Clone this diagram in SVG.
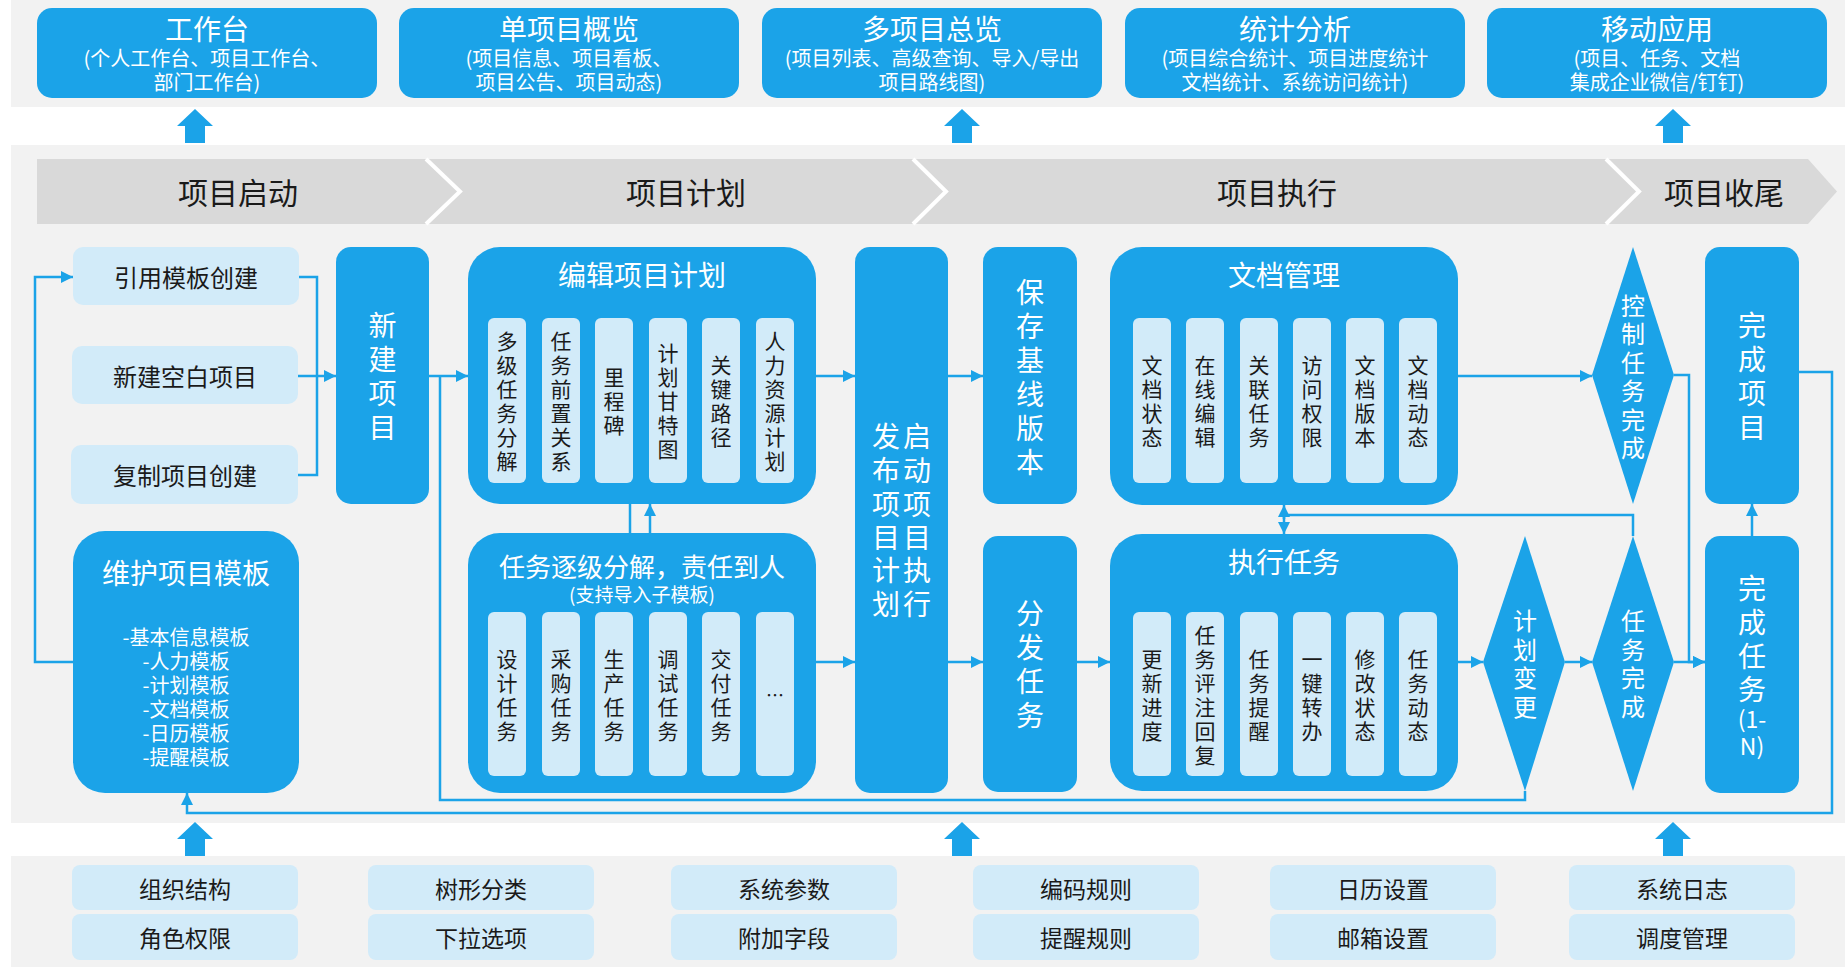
<svg xmlns="http://www.w3.org/2000/svg" width="1845" height="969" viewBox="0 0 1845 969">
<style>
.band{fill:#f2f2f2}
.blue{fill:#1ba3e8}
.light{fill:#d2ebf9}
text{font-family:"Noto Sans CJK SC","Microsoft YaHei",sans-serif;dominant-baseline:central;text-anchor:middle}
.w{fill:#ffffff}
.k{fill:#1a1a1a}
.conn path{fill:none;stroke:#1ba3e8;stroke-width:2.5}
.big{fill:#1ba3e8}
</style>
<defs>
<marker id="ah" viewBox="0 0 12 12" refX="12" refY="6" markerWidth="12" markerHeight="12" markerUnits="userSpaceOnUse" orient="auto">
<path d="M0,0 L12,6 L0,12 z" fill="#1ba3e8"/>
</marker>
</defs>
<rect width="1845" height="969" fill="#ffffff"/>
<rect class="band" x="11" y="0" width="1834" height="107"/>
<rect class="band" x="11" y="145" width="1834" height="678"/>
<rect class="band" x="11" y="856" width="1834" height="111"/>

<g id="top-apps">
<g id="app1"><rect class="blue" x="37" y="8" width="340" height="90" rx="15"/>
<text class="w" x="207" y="28" font-size="28">工作台</text>
<text class="w" x="207" y="57" font-size="20">(个人工作台、项目工作台、</text>
<text class="w" x="207" y="81" font-size="20">部门工作台)</text></g>
<g id="app2"><rect class="blue" x="399" y="8" width="340" height="90" rx="15"/>
<text class="w" x="569" y="28" font-size="28">单项目概览</text>
<text class="w" x="569" y="57" font-size="20">(项目信息、项目看板、</text>
<text class="w" x="569" y="81" font-size="20">项目公告、项目动态)</text></g>
<g id="app3"><rect class="blue" x="762" y="8" width="340" height="90" rx="15"/>
<text class="w" x="932" y="28" font-size="28">多项目总览</text>
<text class="w" x="932" y="57" font-size="20">(项目列表、高级查询、导入/导出</text>
<text class="w" x="932" y="81" font-size="20">项目路线图)</text></g>
<g id="app4"><rect class="blue" x="1125" y="8" width="340" height="90" rx="15"/>
<text class="w" x="1295" y="28" font-size="28">统计分析</text>
<text class="w" x="1295" y="57" font-size="20">(项目综合统计、项目进度统计</text>
<text class="w" x="1295" y="81" font-size="20">文档统计、系统访问统计)</text></g>
<g id="app5"><rect class="blue" x="1487" y="8" width="340" height="90" rx="15"/>
<text class="w" x="1657" y="28" font-size="28">移动应用</text>
<text class="w" x="1657" y="57" font-size="20">(项目、任务、文档</text>
<text class="w" x="1657" y="81" font-size="20">集成企业微信/钉钉)</text></g>
</g>

<g id="block-arrows">
<polygon class="big" points="195,109 213,126 205,126 205,143 185,143 185,126 177,126"/>
<polygon class="big" points="962,109 980,126 972,126 972,143 952,143 952,126 944,126"/>
<polygon class="big" points="1673,109 1691,126 1683,126 1683,143 1663,143 1663,126 1655,126"/>
<polygon class="big" points="195,822 213,839 205,839 205,856 185,856 185,839 177,839"/>
<polygon class="big" points="962,822 980,839 972,839 972,856 952,856 952,839 944,839"/>
<polygon class="big" points="1673,822 1691,839 1683,839 1683,856 1663,856 1663,839 1655,839"/>
</g>

<g id="phases">
<polygon points="37,159 1808,159 1837,191.5 1808,224 37,224" fill="#d9d9d9"/>
<polyline points="426,159 460,191.5 426,224" fill="none" stroke="#ffffff" stroke-width="4"/>
<polyline points="913,159 946,191.5 913,224" fill="none" stroke="#ffffff" stroke-width="4"/>
<polyline points="1606,159 1639,191.5 1606,224" fill="none" stroke="#ffffff" stroke-width="4"/>
<text class="k" x="238" y="191" font-size="30">项目启动</text>
<text class="k" x="686" y="191" font-size="30">项目计划</text>
<text class="k" x="1277" y="191" font-size="30">项目执行</text>
<text class="k" x="1724" y="191" font-size="30">项目收尾</text>
</g>

<g id="n-ref"><rect class="light" x="73" y="247" width="226" height="58" rx="10"/><text class="k" x="186" y="276" font-size="24">引用模板创建</text></g>
<g id="n-blank"><rect class="light" x="72" y="346" width="226" height="58" rx="10"/><text class="k" x="185" y="375" font-size="24">新建空白项目</text></g>
<g id="n-copy"><rect class="light" x="71" y="445" width="227" height="59" rx="10"/><text class="k" x="185" y="474" font-size="24">复制项目创建</text></g>

<g id="n-new"><rect class="blue" x="336" y="247" width="93" height="257" rx="15"/>
<text class="w" font-size="28"><tspan x="382.5" y="324">新</tspan><tspan x="382.5" y="358">建</tspan><tspan x="382.5" y="392">项</tspan><tspan x="382.5" y="426">目</tspan></text></g>

<g id="n-template"><rect class="blue" x="73" y="531" width="226" height="262" rx="32"/>
<text class="w" x="186" y="572" font-size="28">维护项目模板</text>
<text class="w" font-size="20"><tspan x="186" y="636">-基本信息模板</tspan><tspan x="186" y="660">-人力模板</tspan><tspan x="186" y="684">-计划模板</tspan><tspan x="186" y="708">-文档模板</tspan><tspan x="186" y="732">-日历模板</tspan><tspan x="186" y="756">-提醒模板</tspan></text></g>

<g id="n-plan"><rect class="blue" x="468" y="247" width="348" height="257" rx="32"/>
<text class="w" x="642" y="274" font-size="28">编辑项目计划</text>
<rect class="light" x="488" y="318" width="38" height="165" rx="6"/>
<rect class="light" x="542" y="318" width="38" height="165" rx="6"/>
<rect class="light" x="595" y="318" width="38" height="165" rx="6"/>
<rect class="light" x="649" y="318" width="38" height="165" rx="6"/>
<rect class="light" x="702" y="318" width="38" height="165" rx="6"/>
<rect class="light" x="756" y="318" width="38" height="165" rx="6"/>
<text class="k" font-size="21"><tspan x="507" y="340">多</tspan><tspan x="507" y="364">级</tspan><tspan x="507" y="388">任</tspan><tspan x="507" y="412">务</tspan><tspan x="507" y="436">分</tspan><tspan x="507" y="460">解</tspan></text>
<text class="k" font-size="21"><tspan x="561" y="340">任</tspan><tspan x="561" y="364">务</tspan><tspan x="561" y="388">前</tspan><tspan x="561" y="412">置</tspan><tspan x="561" y="436">关</tspan><tspan x="561" y="460">系</tspan></text>
<text class="k" font-size="21"><tspan x="614" y="376">里</tspan><tspan x="614" y="400">程</tspan><tspan x="614" y="424">碑</tspan></text>
<text class="k" font-size="21"><tspan x="668" y="352">计</tspan><tspan x="668" y="376">划</tspan><tspan x="668" y="400">甘</tspan><tspan x="668" y="424">特</tspan><tspan x="668" y="448">图</tspan></text>
<text class="k" font-size="21"><tspan x="721" y="364">关</tspan><tspan x="721" y="388">键</tspan><tspan x="721" y="412">路</tspan><tspan x="721" y="436">径</tspan></text>
<text class="k" font-size="21"><tspan x="775" y="340">人</tspan><tspan x="775" y="364">力</tspan><tspan x="775" y="388">资</tspan><tspan x="775" y="412">源</tspan><tspan x="775" y="436">计</tspan><tspan x="775" y="460">划</tspan></text>
</g>

<g id="n-decompose"><rect class="blue" x="468" y="533" width="348" height="260" rx="32"/>
<text class="w" x="642" y="565" font-size="26">任务逐级分解，责任到人</text>
<text class="w" x="642" y="593" font-size="19">(支持导入子模板)</text>
<rect class="light" x="488" y="612" width="38" height="164" rx="6"/>
<rect class="light" x="542" y="612" width="38" height="164" rx="6"/>
<rect class="light" x="595" y="612" width="38" height="164" rx="6"/>
<rect class="light" x="649" y="612" width="38" height="164" rx="6"/>
<rect class="light" x="702" y="612" width="38" height="164" rx="6"/>
<rect class="light" x="756" y="612" width="38" height="164" rx="6"/>
<text class="k" font-size="21"><tspan x="507" y="658">设</tspan><tspan x="507" y="682">计</tspan><tspan x="507" y="706">任</tspan><tspan x="507" y="730">务</tspan></text>
<text class="k" font-size="21"><tspan x="561" y="658">采</tspan><tspan x="561" y="682">购</tspan><tspan x="561" y="706">任</tspan><tspan x="561" y="730">务</tspan></text>
<text class="k" font-size="21"><tspan x="614" y="658">生</tspan><tspan x="614" y="682">产</tspan><tspan x="614" y="706">任</tspan><tspan x="614" y="730">务</tspan></text>
<text class="k" font-size="21"><tspan x="668" y="658">调</tspan><tspan x="668" y="682">试</tspan><tspan x="668" y="706">任</tspan><tspan x="668" y="730">务</tspan></text>
<text class="k" font-size="21"><tspan x="721" y="658">交</tspan><tspan x="721" y="682">付</tspan><tspan x="721" y="706">任</tspan><tspan x="721" y="730">务</tspan></text>
<text class="k" x="775" y="694" font-size="18">…</text>
</g>

<g id="n-launch"><rect class="blue" x="855" y="247" width="93" height="546" rx="15"/>
<text class="w" font-size="28"><tspan x="886" y="435">发</tspan><tspan x="886" y="469">布</tspan><tspan x="886" y="503">项</tspan><tspan x="886" y="536">目</tspan><tspan x="886" y="569">计</tspan><tspan x="886" y="603">划</tspan></text>
<text class="w" font-size="28"><tspan x="917" y="435">启</tspan><tspan x="917" y="469">动</tspan><tspan x="917" y="503">项</tspan><tspan x="917" y="536">目</tspan><tspan x="917" y="569">执</tspan><tspan x="917" y="603">行</tspan></text></g>

<g id="n-baseline"><rect class="blue" x="983" y="247" width="94" height="257" rx="15"/>
<text class="w" font-size="28"><tspan x="1030" y="291">保</tspan><tspan x="1030" y="325">存</tspan><tspan x="1030" y="359">基</tspan><tspan x="1030" y="393">线</tspan><tspan x="1030" y="427">版</tspan><tspan x="1030" y="461">本</tspan></text></g>

<g id="n-dispatch"><rect class="blue" x="983" y="536" width="94" height="256" rx="15"/>
<text class="w" font-size="28"><tspan x="1030" y="612">分</tspan><tspan x="1030" y="646">发</tspan><tspan x="1030" y="680">任</tspan><tspan x="1030" y="714">务</tspan></text></g>

<g id="n-docs"><rect class="blue" x="1110" y="247" width="348" height="258" rx="32"/>
<text class="w" x="1284" y="274" font-size="28">文档管理</text>
<rect class="light" x="1133" y="318" width="38" height="165" rx="6"/>
<rect class="light" x="1186" y="318" width="38" height="165" rx="6"/>
<rect class="light" x="1240" y="318" width="38" height="165" rx="6"/>
<rect class="light" x="1293" y="318" width="38" height="165" rx="6"/>
<rect class="light" x="1346" y="318" width="38" height="165" rx="6"/>
<rect class="light" x="1399" y="318" width="38" height="165" rx="6"/>
<text class="k" font-size="21"><tspan x="1152" y="364">文</tspan><tspan x="1152" y="388">档</tspan><tspan x="1152" y="412">状</tspan><tspan x="1152" y="436">态</tspan></text>
<text class="k" font-size="21"><tspan x="1205" y="364">在</tspan><tspan x="1205" y="388">线</tspan><tspan x="1205" y="412">编</tspan><tspan x="1205" y="436">辑</tspan></text>
<text class="k" font-size="21"><tspan x="1259" y="364">关</tspan><tspan x="1259" y="388">联</tspan><tspan x="1259" y="412">任</tspan><tspan x="1259" y="436">务</tspan></text>
<text class="k" font-size="21"><tspan x="1312" y="364">访</tspan><tspan x="1312" y="388">问</tspan><tspan x="1312" y="412">权</tspan><tspan x="1312" y="436">限</tspan></text>
<text class="k" font-size="21"><tspan x="1365" y="364">文</tspan><tspan x="1365" y="388">档</tspan><tspan x="1365" y="412">版</tspan><tspan x="1365" y="436">本</tspan></text>
<text class="k" font-size="21"><tspan x="1418" y="364">文</tspan><tspan x="1418" y="388">档</tspan><tspan x="1418" y="412">动</tspan><tspan x="1418" y="436">态</tspan></text>
</g>

<g id="n-exec"><rect class="blue" x="1110" y="534" width="348" height="257" rx="32"/>
<text class="w" x="1284" y="561" font-size="28">执行任务</text>
<rect class="light" x="1133" y="612" width="38" height="164" rx="6"/>
<rect class="light" x="1186" y="612" width="38" height="164" rx="6"/>
<rect class="light" x="1240" y="612" width="38" height="164" rx="6"/>
<rect class="light" x="1293" y="612" width="38" height="164" rx="6"/>
<rect class="light" x="1346" y="612" width="38" height="164" rx="6"/>
<rect class="light" x="1399" y="612" width="38" height="164" rx="6"/>
<text class="k" font-size="21"><tspan x="1152" y="658">更</tspan><tspan x="1152" y="682">新</tspan><tspan x="1152" y="706">进</tspan><tspan x="1152" y="730">度</tspan></text>
<text class="k" font-size="21"><tspan x="1205" y="634">任</tspan><tspan x="1205" y="658">务</tspan><tspan x="1205" y="682">评</tspan><tspan x="1205" y="706">注</tspan><tspan x="1205" y="730">回</tspan><tspan x="1205" y="754">复</tspan></text>
<text class="k" font-size="21"><tspan x="1259" y="658">任</tspan><tspan x="1259" y="682">务</tspan><tspan x="1259" y="706">提</tspan><tspan x="1259" y="730">醒</tspan></text>
<text class="k" font-size="21"><tspan x="1312" y="658">一</tspan><tspan x="1312" y="682">键</tspan><tspan x="1312" y="706">转</tspan><tspan x="1312" y="730">办</tspan></text>
<text class="k" font-size="21"><tspan x="1365" y="658">修</tspan><tspan x="1365" y="682">改</tspan><tspan x="1365" y="706">状</tspan><tspan x="1365" y="730">态</tspan></text>
<text class="k" font-size="21"><tspan x="1418" y="658">任</tspan><tspan x="1418" y="682">务</tspan><tspan x="1418" y="706">动</tspan><tspan x="1418" y="730">态</tspan></text>
</g>

<g id="d-control"><polygon class="blue" points="1633,247 1674,375 1633,504 1592,375"/>
<text class="w" font-size="24"><tspan x="1633" y="304">控</tspan><tspan x="1633" y="332">制</tspan><tspan x="1633" y="361">任</tspan><tspan x="1633" y="389">务</tspan><tspan x="1633" y="418">完</tspan><tspan x="1633" y="446">成</tspan></text></g>

<g id="d-change"><polygon class="blue" points="1525,536 1565,662 1525,791 1483,662"/>
<text class="w" font-size="24"><tspan x="1525" y="619">计</tspan><tspan x="1525" y="648">划</tspan><tspan x="1525" y="676">变</tspan><tspan x="1525" y="705">更</tspan></text></g>

<g id="d-taskdone"><polygon class="blue" points="1633,536 1674,662 1633,791 1592,662"/>
<text class="w" font-size="24"><tspan x="1633" y="619">任</tspan><tspan x="1633" y="648">务</tspan><tspan x="1633" y="676">完</tspan><tspan x="1633" y="705">成</tspan></text></g>

<g id="n-finish-project"><rect class="blue" x="1705" y="247" width="94" height="257" rx="15"/>
<text class="w" font-size="28"><tspan x="1752" y="324">完</tspan><tspan x="1752" y="358">成</tspan><tspan x="1752" y="392">项</tspan><tspan x="1752" y="426">目</tspan></text></g>

<g id="n-finish-task"><rect class="blue" x="1705" y="536" width="94" height="257" rx="15"/>
<text class="w" font-size="28"><tspan x="1752" y="587">完</tspan><tspan x="1752" y="621">成</tspan><tspan x="1752" y="655">任</tspan><tspan x="1752" y="688">务</tspan></text>
<text class="w" font-size="23"><tspan x="1752" y="718">(1-</tspan><tspan x="1752" y="745">N)</tspan></text></g>

<g id="base-modules">
<g id="b1"><rect class="light" x="72" y="865" width="226" height="45" rx="8"/><text class="k" x="185" y="888" font-size="23">组织结构</text>
<rect class="light" x="72" y="914" width="226" height="46" rx="8"/><text class="k" x="185" y="937" font-size="23">角色权限</text></g>
<g id="b2"><rect class="light" x="368" y="865" width="226" height="45" rx="8"/><text class="k" x="481" y="888" font-size="23">树形分类</text>
<rect class="light" x="368" y="914" width="226" height="46" rx="8"/><text class="k" x="481" y="937" font-size="23">下拉选项</text></g>
<g id="b3"><rect class="light" x="671" y="865" width="226" height="45" rx="8"/><text class="k" x="784" y="888" font-size="23">系统参数</text>
<rect class="light" x="671" y="914" width="226" height="46" rx="8"/><text class="k" x="784" y="937" font-size="23">附加字段</text></g>
<g id="b4"><rect class="light" x="973" y="865" width="226" height="45" rx="8"/><text class="k" x="1086" y="888" font-size="23">编码规则</text>
<rect class="light" x="973" y="914" width="226" height="46" rx="8"/><text class="k" x="1086" y="937" font-size="23">提醒规则</text></g>
<g id="b5"><rect class="light" x="1270" y="865" width="226" height="45" rx="8"/><text class="k" x="1383" y="888" font-size="23">日历设置</text>
<rect class="light" x="1270" y="914" width="226" height="46" rx="8"/><text class="k" x="1383" y="937" font-size="23">邮箱设置</text></g>
<g id="b6"><rect class="light" x="1569" y="865" width="226" height="45" rx="8"/><text class="k" x="1682" y="888" font-size="23">系统日志</text>
<rect class="light" x="1569" y="914" width="226" height="46" rx="8"/><text class="k" x="1682" y="937" font-size="23">调度管理</text></g>
</g>

<g id="connectors" class="conn">
<path d="M73,662 H35 V277 H73" marker-end="url(#ah)"/>
<path d="M299,277 H317 V475 H298"/>
<path d="M298,376 H336" marker-end="url(#ah)"/>
<path d="M429,376 H468" marker-end="url(#ah)"/>
<path d="M816,376 H855" marker-end="url(#ah)"/>
<path d="M816,662 H855" marker-end="url(#ah)"/>
<path d="M630,533 V504"/>
<path d="M650,533 V504" marker-end="url(#ah)"/>
<path d="M948,376 H983" marker-end="url(#ah)"/>
<path d="M948,662 H983" marker-end="url(#ah)"/>
<path d="M1077,662 H1110" marker-end="url(#ah)"/>
<path d="M1284,519 V505" marker-end="url(#ah)"/>
<path d="M1284,515 V534" marker-end="url(#ah)"/>
<path d="M1633,536 V515 H1284"/>
<path d="M1458,376 H1592" marker-end="url(#ah)"/>
<path d="M1458,662 H1483" marker-end="url(#ah)"/>
<path d="M1565,662 H1592" marker-end="url(#ah)"/>
<path d="M1674,375 H1689 V662 H1705" marker-end="url(#ah)"/>
<path d="M1674,662 H1705" marker-end="url(#ah)"/>
<path d="M1752,536 V504" marker-end="url(#ah)"/>
<path d="M1525,791 V800 H440 V376"/>
<path d="M1799,372 H1832 V813 H187 V793" marker-end="url(#ah)"/>
</g>
</svg>
